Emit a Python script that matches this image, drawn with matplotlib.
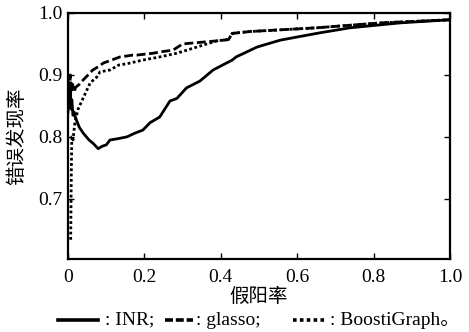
import matplotlib
matplotlib.use("Agg")
import matplotlib.pyplot as plt
from matplotlib.lines import Line2D

plt.rcParams['font.family'] = ['Liberation Serif', 'Noto Sans CJK SC']

# INR (solid)
inr_x = [0.0, 0.002, 0.004, 0.006, 0.008, 0.010, 0.013, 0.016, 0.020, 0.030, 0.040, 0.055,
         0.065, 0.079, 0.090, 0.100, 0.110, 0.130, 0.154, 0.175, 0.196, 0.215, 0.240, 0.267,
         0.285, 0.310, 0.345, 0.380, 0.430, 0.440, 0.495, 0.555, 0.607, 0.660, 0.738, 0.870, 1.0]
inr_y = [0.84, 0.87, 0.85, 0.88, 0.845, 0.86, 0.835, 0.84, 0.83, 0.815, 0.806, 0.795,
         0.79, 0.781, 0.785, 0.787, 0.795, 0.797, 0.80, 0.806, 0.811, 0.823, 0.832, 0.858,
         0.862, 0.879, 0.890, 0.908, 0.924, 0.929, 0.945, 0.956, 0.962, 0.968, 0.976, 0.984, 0.989]

# glasso (dashed)
gl_x = [0.0, 0.002, 0.004, 0.006, 0.009, 0.012, 0.016, 0.020, 0.030, 0.040, 0.065, 0.084,
        0.092, 0.136, 0.170, 0.180, 0.223, 0.240, 0.275, 0.300, 0.390, 0.420, 0.430, 0.476,
        0.650, 0.820, 1.0]
gl_y = [0.85, 0.89, 0.86, 0.90, 0.875, 0.885, 0.872, 0.88, 0.885, 0.892, 0.908, 0.915,
        0.919, 0.929, 0.932, 0.932, 0.935, 0.937, 0.940, 0.950, 0.955, 0.957, 0.967, 0.970,
        0.976, 0.984, 0.989]

# BoostiGraph (dotted)
bg_x = [0.007, 0.008, 0.009, 0.010, 0.012, 0.013, 0.018, 0.026, 0.040, 0.058, 0.076, 0.084,
        0.110, 0.133, 0.154, 0.196, 0.240, 0.285, 0.390, 0.420, 0.430, 0.476, 0.650, 0.820, 1.0]
bg_y = [0.634, 0.70, 0.76, 0.80, 0.80, 0.795, 0.823, 0.844, 0.863, 0.887, 0.897, 0.905,
        0.908, 0.916, 0.918, 0.924, 0.929, 0.935, 0.955, 0.957, 0.967, 0.970, 0.976, 0.984, 0.989]

x_ticks = [0, 0.2, 0.4, 0.6, 0.8, 1.0]
x_ticklabels = ["0", "0.2", "0.4", "0.6", "0.8", "1.0"]
y_ticks = [0.7, 0.8, 0.9, 1.0]
y_ticklabels = ["0.7", "0.8", "0.9", "1.0"]
labels = [": INR;", ": glasso;", ": BoostiGraph\u3002"]

styles = ['-', (0, (2.2, 0.8)), (0, (1.0, 0.9))]

fig = plt.figure(figsize=(4.69, 3.32), dpi=100)
ax = fig.add_axes([0.145, 0.22, 0.8145, 0.741])

ax.plot(inr_x, inr_y, color='black', lw=2.0, linestyle=styles[0])
ax.plot(gl_x, gl_y, color='black', lw=2.0, linestyle=(0, (3.2, 1.3)))
ax.plot(bg_x, bg_y, color='black', lw=2.0, linestyle=(0, (1.0, 0.9)))

ax.set_xlim(0, 1.0)
ax.set_ylim(0.603, 1.0)
ax.set_xticks(x_ticks)
ax.set_xticklabels(x_ticklabels)
ax.set_yticks(y_ticks)
ax.set_yticklabels(y_ticklabels)
ax.tick_params(direction='in', top=True, right=True, length=4, width=1, labelsize=14)
ax.tick_params(axis='x', pad=7)
ax.tick_params(axis='y', pad=4)
for s in ax.spines.values():
    s.set_linewidth(1.6)

ax.set_xlabel("假阳率", fontsize=14, family=['Noto Sans CJK SC'], labelpad=0)
ax.set_ylabel("错误发现率", fontsize=14, family=['Noto Sans CJK SC'], labelpad=8)

# manual legend in figure coordinates
leg_y = 0.036
handles = [(0.1237, 0.2090), (0.3518, 0.4115), (0.6247, 0.6970)]
text_x = [0.2239, 0.4180, 0.7036]
for (x0, x1), st, tx, lab in zip(handles, styles, text_x, labels):
    fig.add_artist(Line2D([x0, x1], [leg_y, leg_y], transform=fig.transFigure,
                          color='black', lw=2.6, linestyle=st))
    fig.text(tx, leg_y, lab, fontsize=14, va='center', ha='left')

fig.savefig("out.png", dpi=100)
